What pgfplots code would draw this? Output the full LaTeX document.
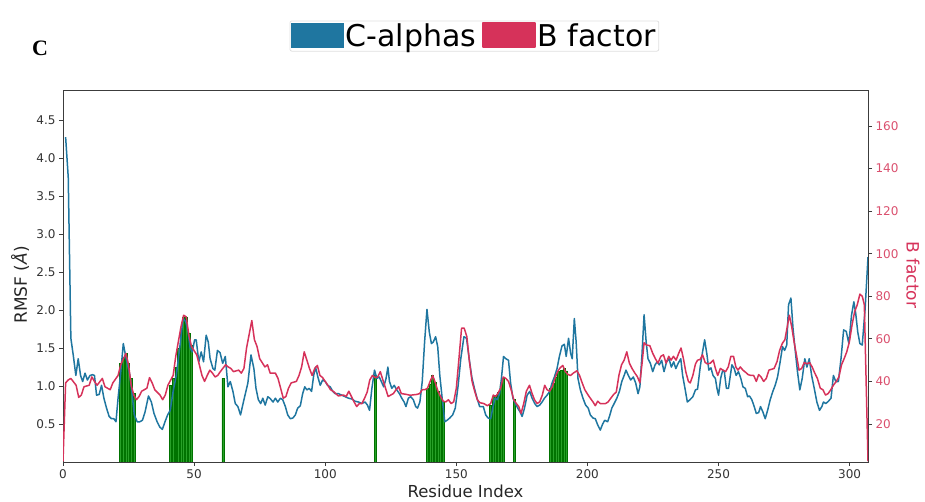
\documentclass[border=0pt]{standalone}
\usepackage{fontspec}
\setmainfont{DejaVu Sans}
\newfontfamily\serifb{Liberation Serif}
\usepackage{pgfplots}
\pgfplotsset{compat=1.18}
\definecolor{cblue}{RGB}{31,118,160}
\definecolor{cred}{RGB}{214,50,90}
\definecolor{cticks}{RGB}{218,80,110}
\definecolor{gfill}{RGB}{40,160,40}
\definecolor{gedge}{RGB}{0,115,0}
\definecolor{frame}{RGB}{60,60,60}
\begin{document}
\begin{tikzpicture}
\pgfplotsset{
  common/.style={
    at={(0pt,0pt)}, anchor=south west,
    width=805pt, height=372pt, scale only axis,
    xmin=0, xmax=307,
    axis line style={draw=frame, line width=0.8pt},
    tick style={draw=frame, line width=0.8pt},
    tick align=outside, major tick length=4pt,
    /pgf/number format/assume math mode=true,
    tick label style={font=\fontsize{12}{12}\selectfont},
  }
}
\begin{axis}[common,
  ymin=0, ymax=4.9,
  xtick={0,50,...,300}, ytick={0.5,1.0,1.5,2.0,2.5,3.0,3.5,4.0,4.5},
  xtick pos=bottom, ytick pos=left,
  yticklabel style={/pgf/number format/.cd, fixed, fixed zerofill, precision=1},
  tick label style={text=black!80},
  xlabel={Residue Index},
  xlabel style={at={(axis description cs:0.5,-0.0955)}, anchor=base, font=\fontsize{16.5}{16.5}\selectfont, text=black!85},
  ylabel={RMSF (\textit{Å})},
  ylabel style={at={(axis description cs:-0.0534,0.476)}, anchor=center, font=\fontsize{17}{17}\selectfont, text=black!85},
]
\addplot[ybar, bar width=0.75, fill=gfill, draw=gedge, line width=0.5pt] coordinates {
(22,1.30)(23,1.38)(24,1.43)(25,1.30)(26,1.10)(27,0.90)
(41,1.01)(42,1.10)(43,1.25)(44,1.50)(45,1.75)(46,1.91)(47,1.91)(48,1.70)(49,1.54)
(61,1.10)
(119,1.14)
(139,0.97)(140,1.03)(141,1.14)(142,1.05)(143,0.93)(144,0.86)(145,0.80)
(163,0.75)(164,0.86)(165,0.88)(166,0.92)(167,1.02)(168,1.10)
(172,0.82)
(186,0.97)(187,1.04)(188,1.12)(189,1.19)(190,1.21)(191,1.23)(192,1.20)
};
\addplot[cblue, line width=1.5pt, line join=round] coordinates {
(1,4.28)(2,3.75)(3.0,1.63)(3.9,1.41)(4.9,1.14)(5.8,1.36)(6.7,1.14)(7.5,1.06)(8.4,1.17)(9.3,1.08)
(10.3,1.14)(11.2,1.15)(12.0,1.14)(12.8,0.88)(13.8,0.89)(14.7,1.01)(15.6,0.84)(16.6,0.71)(17.6,0.60)(18.5,0.57)
(19.4,0.57)(20.2,0.53)(21.0,0.84)(21.9,1.14)(23.0,1.56)(23.7,1.43)(24.6,1.28)(25.5,1.14)(26.4,0.88)(27.2,0.62)
(28.3,0.53)(29.3,0.53)(30.3,0.55)(31.3,0.66)(32.6,0.87)(33.7,0.79)(34.7,0.64)(35.9,0.53)(36.9,0.46)(37.9,0.43)
(38.9,0.53)(39.9,0.62)(40.9,0.68)(42.0,0.93)(43.2,1.14)(44.5,1.50)(45.8,1.89)(46.8,1.85)(47.7,1.71)(48.5,1.50)
(49.3,1.45)(50.2,1.61)(50.8,1.61)(51.8,1.32)(52.7,1.45)(53.6,1.32)(54.6,1.67)(55.4,1.58)(56.1,1.36)(57.2,1.23)
(57.9,1.21)(58.9,1.47)(59.9,1.44)(60.9,1.30)(61.9,1.39)(62.9,0.99)(63.8,1.06)(64.8,0.93)(65.7,0.77)(66.7,0.73)
(67.7,0.62)(68.8,0.79)(70.5,1.04)(71.7,1.41)(72.8,1.23)(73.6,0.97)(74.5,0.82)(75.4,0.77)(76.2,0.84)(77.1,0.75)
(78.1,0.86)(78.9,0.84)(80.1,0.79)(81.0,0.84)(81.9,0.79)(82.9,0.84)(83.8,0.82)(84.8,0.73)(85.7,0.62)(86.7,0.57)
(87.7,0.58)(88.6,0.62)(89.5,0.71)(90.5,0.74)(91.4,0.90)(92.2,0.99)(93.0,0.95)(93.9,0.97)(94.8,0.93)(95.6,1.14)
(96.3,1.25)(97.2,1.12)(98.1,1.01)(99.0,1.08)(100.0,1.06)(100.9,1.01)(101.9,0.99)(102.9,0.93)(103.8,0.90)(105.1,0.90)
(106.3,0.88)(107.6,0.86)(108.9,0.84)(110.2,0.83)(111.4,0.80)(112.7,0.79)(114.0,0.77)(115.2,0.79)(116.1,0.75)(116.9,0.68)
(117.8,0.97)(118.8,1.21)(119.7,1.10)(120.6,1.12)(121.4,1.06)(122.3,0.99)(123.2,1.10)(123.9,1.25)(124.5,1.06)(125.4,0.97)
(126.3,1.01)(127.3,0.95)(128.3,0.90)(129.2,0.84)(130.1,0.79)(130.8,0.73)(131.7,0.84)(132.6,0.86)(133.6,0.82)(134.5,0.73)
(135.2,0.71)(136.1,0.79)(137.0,1.06)(137.9,1.58)(138.8,2.01)(139.7,1.71)(140.5,1.56)(141.2,1.58)(142.1,1.65)(142.9,1.52)
(143.7,1.14)(144.6,0.84)(145.6,0.53)(146.5,0.55)(147.5,0.58)(148.6,0.62)(149.6,0.71)(150.7,1.01)(151.7,1.36)(152.9,1.65)
(153.9,1.63)(154.9,1.36)(155.9,1.12)(156.9,0.97)(157.9,0.84)(158.9,0.73)(160.3,0.73)(161.2,0.62)(162.1,0.58)(163.1,0.57)
(163.9,0.71)(164.7,0.84)(165.6,0.82)(166.5,0.90)(167.2,1.10)(168.0,1.39)(168.9,1.36)(169.9,1.34)(170.7,1.04)(171.6,0.84)
(172.5,0.77)(173.4,0.71)(174.3,0.66)(175.1,0.60)(176.0,0.71)(177.0,0.88)(178.0,0.93)(178.9,0.84)(179.9,0.77)(180.8,0.73)
(181.8,0.75)(182.7,0.79)(183.6,0.84)(184.6,0.88)(185.6,0.93)(186.5,1.04)(187.4,1.12)(188.4,1.23)(189.3,1.39)(190.3,1.53)
(191.2,1.55)(191.9,1.39)(192.8,1.63)(193.6,1.43)(194.2,1.36)(195.0,1.89)(195.7,1.58)(196.4,1.10)(197.3,0.95)(198.3,0.84)
(199.3,0.75)(200.3,0.71)(201.1,0.62)(202.1,0.58)(203.0,0.57)(203.9,0.49)(204.9,0.42)(205.8,0.50)(206.6,0.55)(207.7,0.53)
(208.4,0.60)(209.3,0.71)(210.2,0.77)(211.2,0.84)(212.2,0.93)(213.1,1.06)(214.0,1.14)(214.7,1.21)(215.6,1.14)(216.5,1.08)
(217.5,1.12)(218.4,1.04)(219.3,0.90)(220.0,0.99)(220.8,1.41)(221.6,1.94)(222.4,1.58)(223.1,1.36)(224.0,1.30)(224.9,1.19)
(225.8,1.28)(226.6,1.32)(227.4,1.28)(228.3,1.34)(229.2,1.19)(230.2,1.32)(231.1,1.36)(232.0,1.25)(232.9,1.32)(233.7,1.23)
(234.6,1.30)(235.6,1.36)(236.3,1.14)(237.2,0.97)(238.1,0.79)(239.1,0.82)(240.2,0.86)(241.2,0.95)(242.0,0.96)(243.0,1.25)
(243.9,1.45)(244.7,1.61)(245.6,1.41)(246.3,1.21)(247.1,1.24)(247.9,1.14)(248.8,1.10)(249.4,0.97)(250.0,0.88)(250.8,1.10)
(251.6,1.21)(252.2,1.19)(253.0,0.97)(253.8,0.97)(254.5,1.14)(255.1,1.28)(256.0,1.23)(256.7,1.14)(257.6,1.19)(258.5,1.10)
(259.3,0.99)(260.2,0.97)(261.1,0.86)(261.8,0.87)(262.7,0.82)(263.6,0.73)(264.4,0.64)(265.3,0.65)(266.0,0.73)(266.9,0.66)
(267.8,0.57)(268.7,0.68)(269.7,0.82)(270.7,0.93)(271.6,1.01)(272.5,1.12)(273.5,1.32)(274.4,1.52)(275.2,1.47)(276.0,1.54)
(276.7,2.07)(277.6,2.16)(278.4,1.76)(279.3,1.45)(280.1,1.19)(281.0,0.95)(281.9,1.10)(282.9,1.36)(283.7,1.25)(284.6,1.36)
(285.5,1.14)(286.5,0.97)(287.5,0.79)(288.5,0.68)(289.4,0.73)(290.0,0.79)(290.9,0.77)(291.9,0.80)(292.9,0.84)(293.8,1.14)
(294.7,1.06)(295.7,1.06)(296.7,1.36)(297.7,1.74)(298.7,1.72)(299.7,1.56)(300.7,1.93)(301.6,2.11)(302.3,1.96)(303.1,1.71)
(303.9,1.56)(304.8,1.54)(305.9,2.02)(307.0,2.70)
};
\end{axis}
\begin{axis}[common,
  ymin=2.15, ymax=176.9,
  hide x axis, axis y line*=right,
  ytick={20,40,...,160},
  tick label style={text=cticks},
  ylabel={B factor},
  ylabel style={at={(axis description cs:1.0559,0.503)}, anchor=center, rotate=180, font=\fontsize{17}{17}\selectfont, text=cred},
  legend columns=2,
  legend image code/.code={\fill[#1, sharp corners] (0pt,-11pt) rectangle (52pt,13pt);},
  legend style={at={(axis description cs:0.511,1.145)}, anchor=center,
    draw=black!12, line width=0.8pt, fill=white, rounded corners=2pt,
    font=\fontsize{30}{30}\selectfont, inner xsep=1pt, inner ysep=1pt,
    /tikz/every even column/.append style={column sep=4pt}},
]
\addlegendimage{cblue}
\addlegendentry{C-alphas}
\addplot[cred, line width=1.5pt, line join=round] coordinates {
(0,2.5)(1,39.3)(2,40.7)(3,41.4)(5,38.2)(6,32.5)(7,33.6)(8,37.5)(10,38.2)(11,42.1)
(12,40.0)(13,38.2)(15,41.4)(16,37.5)(17,36.8)(18,36.1)(19,39.3)(21,42.8)(22,47.8)(24,53.2)
(25,47.8)(26,38.2)(27,33.6)(28,31.4)(29,32.9)(30,35.4)(32,36.8)(33,41.8)(34,39.3)(35,36.1)
(37,33.6)(38,31.4)(39,33.6)(40,38.2)(42,42.8)(43,51.8)(45,65.7)(46,71.1)(47,70.3)(48,61.8)
(49,56.4)(51,52.5)(52,47.8)(53,42.8)(54,40.0)(55,42.8)(56,45.3)(57,43.9)(58,42.1)(59,42.8)
(60,44.6)(62,47.8)(63,46.8)(64,46.1)(65,44.6)(67,45.3)(68,43.9)(69,46.1)(70,55.7)(72,68.6)
(73,59.6)(74,56.4)(75,50.7)(77,46.8)(78,47.8)(79,43.9)(81,43.9)(82,41.4)(83,36.8)(84,32.1)
(85,32.9)(86,36.8)(87,39.3)(89,40.0)(90,42.8)(91,46.8)(92,53.9)(93,50.0)(94,46.1)(95,42.8)
(96,46.1)(97,47.5)(98,42.8)(99,41.8)(100,40.0)(101,38.2)(102,36.1)(103,35.4)(104,34.3)(105,33.2)
(107,33.6)(108,32.9)(109,35.4)(110,32.9)(111,30.4)(112,28.2)(113,29.6)(114,29.6)(115,32.1)(116,35.0)
(117,40.7)(118,42.8)(119,41.8)(120,42.1)(121,44.6)(122,40.7)(123,36.8)(124,32.9)(126,34.3)(127,36.1)
(128,37.5)(129,34.3)(131,33.9)(132,33.6)(133,33.6)(135,33.9)(136,34.3)(137,36.1)(138,36.1)(139,36.8)
(140,40.0)(141,42.8)(142,39.3)(143,35.4)(144,32.9)(145,30.7)(146,30.4)(147,31.4)(148,29.6)(149,30.4)
(150,36.8)(151,50.7)(152,65.0)(153,65.0)(154,61.1)(155,49.3)(156,40.0)(157,35.4)(158,31.4)(159,30.0)
(160.5,29.6)(161.8,28.6)(163.1,29.6)(164.1,33.6)(165.0,32.9)(165.8,34.3)(166.9,36.8)(167.9,42.1)(168.9,41.4)(169.9,40.0)
(170.9,36.1)(171.9,31.4)(172.9,29.6)(173.8,28.2)(174.7,25.0)(175.7,29.6)(176.7,35.4)(177.9,38.2)(178.9,34.3)(179.8,31.4)
(180.8,29.6)(181.8,30.4)(182.8,33.6)(183.7,38.2)(184.6,36.1)(185.6,35.4)(186.6,37.5)(187.6,41.4)(188.6,44.6)(189.6,46.4)
(190.6,47.5)(191.6,44.6)(192.6,43.2)(193.6,42.8)(194.6,43.9)(196.0,45.0)(197.0,42.8)(198.0,39.3)(199.0,36.1)(200.1,33.9)
(201.1,32.1)(202.1,30.4)(203.0,28.6)(203.9,30.7)(204.9,29.6)(205.9,29.6)(206.9,29.6)(207.9,30.4)(208.9,32.1)(210.0,33.9)
(211.0,35.0)(212.0,42.8)(213.0,47.8)(214.0,50.0)(215.0,53.9)(216.0,48.6)(217.0,46.1)(218.1,43.9)(219.1,42.1)(220.0,39.3)
(220.9,49.3)(221.6,58.2)(222.5,57.1)(223.8,56.8)(224.9,53.2)(225.9,50.7)(226.9,48.6)(228.0,51.8)(229.0,52.5)(230.0,48.6)
(231.0,51.8)(231.9,50.0)(232.8,51.8)(233.8,50.0)(234.8,53.2)(235.7,55.7)(236.6,50.7)(237.5,44.6)(238.5,40.0)(239.2,39.3)
(240.2,42.8)(241.2,48.2)(242.0,50.0)(243.0,50.3)(243.9,52.5)(244.9,48.9)(245.8,48.2)(246.9,48.6)(248.0,50.0)(248.8,46.1)
(249.7,42.8)(250.7,46.1)(251.7,45.3)(252.7,44.6)(253.7,46.8)(254.7,51.8)(255.7,51.8)(256.6,46.8)(257.4,45.3)(258.3,46.8)
(259.3,45.3)(260.3,44.3)(261.3,43.2)(262.3,42.8)(263.4,42.8)(264.4,40.0)(265.3,43.2)(266.2,42.1)(267.2,40.0)(268.2,41.4)
(269.2,45.3)(270.2,45.7)(271.2,46.1)(272.3,49.3)(273.3,54.6)(274.3,57.8)(275.3,59.6)(276.1,65.0)(277.0,71.1)(277.9,65.7)
(278.8,58.6)(279.7,52.5)(280.7,45.3)(281.7,46.1)(282.7,48.9)(283.7,48.2)(284.7,48.9)(285.7,46.8)(286.7,43.9)(287.7,41.4)
(288.8,36.8)(289.8,36.1)(290.8,33.6)(291.8,34.3)(292.8,36.1)(293.8,38.2)(294.9,40.0)(295.9,42.1)(296.9,47.8)(297.9,50.7)
(298.9,53.9)(299.9,58.6)(300.9,66.4)(301.9,72.8)(302.9,76.0)(303.9,81.0)(304.8,80.0)(305.6,76.0)(307,2.5)
};
\addlegendentry{B factor}
\end{axis}
\node[font=\serifb\bfseries\fontsize{22}{22}\selectfont, text=black] at (-23pt,414pt) {C};
\pgfresetboundingbox
\useasboundingbox (-63pt,-40pt) rectangle (862pt,462pt);
\end{tikzpicture}
\end{document}
